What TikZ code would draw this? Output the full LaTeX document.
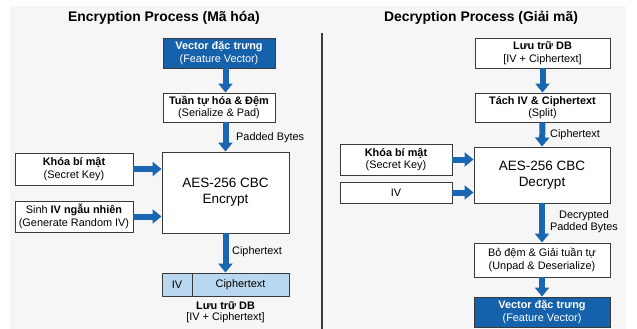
\documentclass[tikz,border=0pt]{standalone}
\usepackage{fontspec}
\setmainfont{Liberation Sans}
\usetikzlibrary{arrows.meta}
\definecolor{dblue}{HTML}{1661AC}
\definecolor{ablue}{HTML}{1B66B0}
\definecolor{lblue}{HTML}{B9D7EE}
\definecolor{bline}{HTML}{3A3A3A}
\definecolor{bgc}{HTML}{F6F6F6}
\tikzset{
  box/.style={draw=bline, fill=white, line width=0.9pt, align=center, inner sep=0pt,
    font=\fontsize{10.9}{12.5}\selectfont},
  darkbox/.style={box, fill=dblue, draw=bline, text=white},
  aesbox/.style={box, font=\fontsize{13.5}{16}\selectfont},
  flow/.style={draw=ablue, line width=6pt, -{Triangle[width=14pt,length=9pt]}},
  lbl/.style={font=\fontsize{10.9}{12.5}\selectfont, align=center, inner sep=0pt},
  ttl/.style={font=\bfseries\fontsize{13.9}{15}\selectfont, inner sep=0pt},
}
\begin{document}
\begin{tikzpicture}[x=1pt,y=-1pt]
\useasboundingbox (0,0) rectangle (637,329);
\fill[bgc] (10,6) rectangle (626,329);
% titles
\node[ttl] (t1) at (164,18) {Encryption Process (Mã hóa)};
\node[ttl] (t2) at (481,18) {Decryption Process (Giải mã)};
% divider
\coordinate (d1) at (322,33);
\coordinate (d2) at (322,329);
\draw[bline, line width=1.1pt] (d1) -- (d2);
% ---- left ----
\node[darkbox, minimum width=112, minimum height=30] (vec1) at (219,53)
  {\textbf{Vector đặc trưng}\\(Feature Vector)};
\node[box, minimum width=112, minimum height=29] (tuan) at (219,107.5)
  {\textbf{Tuần tự hóa \& Đệm}\\(Serialize \& Pad)};
\node[aesbox, minimum width=127, minimum height=81] (aesE) at (225.5,192.5)
  {AES-256 CBC\\Encrypt};
\node[box, minimum width=118, minimum height=32] (key1) at (74,169)
  {\textbf{Khóa bí mật}\\(Secret Key)};
\node[box, minimum width=118, minimum height=31] (ivgen) at (74,216.5)
  {Sinh \textbf{IV ngẫu nhiên}\\(Generate Random IV)};
\node[box, fill=lblue, minimum width=127, minimum height=23] (store1) at (225.5,284.5) {};
\coordinate (sd1) at (192,273);
\coordinate (sd2) at (192,296);
\draw[bline, line width=0.9pt] (sd1) -- (sd2);
\node[lbl] (ivt) at (177,284.5) {IV};
\node[lbl] (ct) at (240.5,284.5) {Ciphertext};
\node[lbl, font=\fontsize{10.9}{11.5}\selectfont] (st1) at (225.5,312)
  {\textbf{Lưu trữ DB}\\{}[IV + Ciphertext]};
\draw[flow] (vec1.south -| aesE.center) -- (tuan.north -| aesE.center);
\draw[flow] (tuan.south -| aesE.center) -- (aesE.north);
\node[lbl, anchor=west] (pb) at (236,138) {Padded Bytes};
\draw[flow] (key1.east) -- (key1.east -| aesE.west);
\draw[flow] (ivgen.east) -- (ivgen.east -| aesE.west);
\draw[flow] (aesE.south) -- (store1.north);
\node[lbl, anchor=west] (cl1) at (232,252) {Ciphertext};
% ---- right ----
\node[box, minimum width=135, minimum height=30] (db2) at (542.5,53)
  {\textbf{Lưu trữ DB}\\{}[IV + Ciphertext]};
\node[box, minimum width=135, minimum height=29] (split) at (542.5,107.5)
  {\textbf{Tách IV \& Ciphertext}\\(Split)};
\node[aesbox, minimum width=136, minimum height=56] (aesD) at (542,175)
  {AES-256 CBC\\Decrypt};
\node[box, minimum width=112, minimum height=31] (key2) at (396,159.5)
  {\textbf{Khóa bí mật}\\(Secret Key)};
\node[box, minimum width=112, minimum height=21] (iv2) at (396,192.5) {IV};
\node[box, minimum width=136, minimum height=34] (unpad) at (542,260)
  {Bỏ đệm \& Giải tuần tự\\(Unpad \& Deserialize)};
\node[darkbox, minimum width=136, minimum height=30] (vec2) at (542,312)
  {\textbf{Vector đặc trưng}\\(Feature Vector)};
\draw[flow] (db2.south) -- (split.north);
\draw[flow] (split.south) -- (aesD.north);
\node[lbl, anchor=west] (cl2) at (550,135) {Ciphertext};
\draw[flow] (key2.east) -- (key2.east -| aesD.west);
\draw[flow] (iv2.east) -- (iv2.east -| aesD.west);
\draw[flow] (aesD.south) -- (unpad.north);
\node[lbl] (dpb) at (584,221.5) {Decrypted\\Padded Bytes};
\draw[flow] (unpad.south) -- (vec2.north);
\end{tikzpicture}
\end{document}
